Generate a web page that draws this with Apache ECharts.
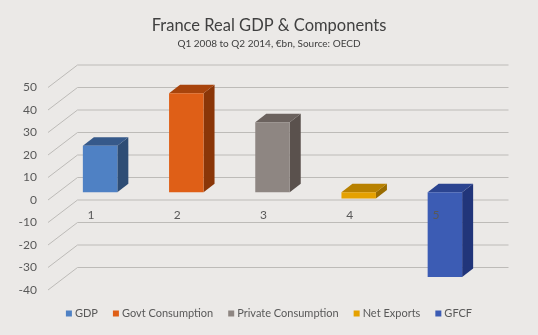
<!DOCTYPE html>
<html>
<head>
<meta charset="utf-8">
<script src="https://cdn.jsdelivr.net/npm/echarts@6/dist/echarts.min.js"></script>
<style>
  html, body { margin: 0; padding: 0; background: #ebe9e7; }
  #chart { width: 538px; height: 335px; }
</style>
</head>
<body>
<div id="chart"></div>
<script>
// Components of French real GDP change, Q1 2008 to Q2 2014 (EUR bn)
const categories = ['1', '2', '3', '4', '5'];
const seriesNames = ['GDP', 'Govt Consumption', 'Private Consumption', 'Net Exports', 'GFCF'];
const values = [20.7, 44, 31.1, -2.7, -37.6];
const yMin = -40, yMax = 50, yStep = 10;

// Face colours of each box: front, side, top
const palette = [
  { front: '#4f81c4', side: '#2e4d75', top: '#36598a' },
  { front: '#df5f17', side: '#8a3608', top: '#a8440c' },
  { front: '#8e8682', side: '#5a514d', top: '#6b625e' },
  { front: '#e5a100', side: '#9a6c00', top: '#b88100' },
  { front: '#3c5cb4', side: '#21357a', top: '#2b4490' }
];

// Plot area (floor front plane)
const GRID = { left: 48, right: 59, top: 87.5, bottom: 45 };
const PLOT_H = 335 - GRID.top - GRID.bottom;
// Category labels sit on the zero line of the floor front
const ZERO_OFFSET = PLOT_H * (0 - yMin) / (yMax - yMin);

// Oblique depth of the plot: floor front -> back wall
const WALL_DX = 29.5, WALL_DY = -22.5;
// Box front plane offset and box depth
const BOX_OX = 9, BOX_OY = -7.7;
const BOX_DX = 11, BOX_DY = -8.5;
const BOX_WIDTH = 0.4;

const yTicks = [];
for (let v = yMin; v <= yMax; v += yStep) yTicks.push(v);

const wallSeries = {
  type: 'custom',
  silent: true,
  z: 1,
  data: yTicks.map(v => [0, v]),
  renderItem(params, api) {
    const cs = params.coordSys;
    const p = api.coord([0, api.value(1)]);
    const y = p[1];
    const x0 = cs.x;
    const x1 = cs.x + WALL_DX;
    const x2 = cs.x + cs.width + WALL_DX;
    return {
      type: 'polyline',
      shape: { points: [[x0, y], [x1, y + WALL_DY], [x2, y + WALL_DY]] },
      style: { stroke: '#bdbbb8', lineWidth: 1, fill: null }
    };
  }
};

const boxSeries = seriesNames.map((name, i) => ({
  type: 'custom',
  name,
  z: 3,
  itemStyle: { color: palette[i].front },
  data: [[i, values[i]]],
  renderItem(params, api) {
    const idx = api.value(0);
    const v = api.value(1);
    const base = api.coord([idx, 0]);
    const tip = api.coord([idx, v]);
    const bw = api.size([1, 0])[0] * BOX_WIDTH;
    const xL = base[0] - bw / 2 + BOX_OX;
    const xR = xL + bw;
    const yT = Math.min(base[1], tip[1]) + BOX_OY;
    const yB = Math.max(base[1], tip[1]) + BOX_OY;
    const c = palette[i];
    return {
      type: 'group',
      children: [
        { type: 'polygon', shape: { points: [[xR, yT], [xR + BOX_DX, yT + BOX_DY], [xR + BOX_DX, yB + BOX_DY], [xR, yB]] },
          style: { fill: c.side } },
        { type: 'polygon', shape: { points: [[xL, yT], [xL + BOX_DX, yT + BOX_DY], [xR + BOX_DX, yT + BOX_DY], [xR, yT]] },
          style: { fill: c.top } },
        { type: 'rect', shape: { x: xL, y: yT, width: bw, height: yB - yT },
          style: { fill: c.front } }
      ]
    };
  }
}));

const chart = echarts.init(document.getElementById('chart'));
chart.setOption({
  backgroundColor: '#ebe9e7',
  animation: false,
  textStyle: { fontFamily: 'Lato' },
  title: {
    text: 'France Real GDP & Components',
    subtext: 'Q1 2008 to Q2 2014, €bn, Source: OECD',
    left: 264, top: 12, textAlign: 'center',
    itemGap: 5,
    textStyle: { fontFamily: 'Lato', fontSize: 16.5, fontWeight: 'normal', color: '#404040' },
    subtextStyle: { fontFamily: 'Lato', fontSize: 10, color: '#404040' }
  },
  legend: {
    bottom: 11, left: 'center',
    icon: 'rect', itemWidth: 6, itemHeight: 6, itemGap: 15,
    textStyle: { fontFamily: 'Lato', fontSize: 11, color: '#595959', padding: [0, 0, 0, -2] },
    data: seriesNames
  },
  grid: { left: GRID.left, right: GRID.right, top: GRID.top, bottom: GRID.bottom, containLabel: false },
  xAxis: {
    type: 'category',
    data: categories,
    position: 'bottom',
    offset: -ZERO_OFFSET,
    z: 5,
    axisLine: { show: false },
    axisTick: { show: false },
    axisLabel: { color: '#595959', fontSize: 12, margin: 9 },
    splitLine: { show: false }
  },
  yAxis: {
    type: 'value',
    min: yMin, max: yMax, interval: yStep,
    axisLine: { show: false },
    axisTick: { show: false },
    splitLine: { show: false },
    axisLabel: { color: '#595959', fontSize: 12, margin: 11 }
  },
  series: [wallSeries, ...boxSeries]
});
</script>
</body>
</html>
